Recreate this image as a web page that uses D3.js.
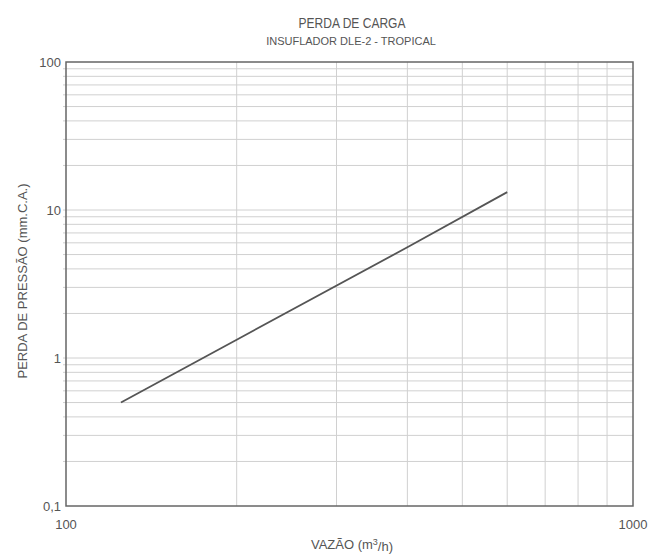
<!DOCTYPE html>
<html>
<head>
<meta charset="utf-8">
<script src="https://cdn.jsdelivr.net/npm/d3@7"></script>
<style>
  body { margin: 0; background: #fff; }
  text { font-family: "Liberation Sans Narrow", "Arial Narrow", "Liberation Sans", sans-serif; fill: #555; }
</style>
</head>
<body>
<div id="chart-area"></div>
<script>
// Data
const flow = [125, 200, 400, 600]          // VAZÃO (m3/h)
const loss = [0.5, 1.33, 5.6, 13.2]        // PERDA DE PRESSÃO (mm.C.A.)
const xTicks = [100, 1000]
const yTicks = [0.1, 1, 10, 100]
const yTickLabels = ["0,1", "1", "10", "100"]

const MARGIN = { LEFT: 66, RIGHT: 32, TOP: 62, BOTTOM: 51 }
const WIDTH = 665 - MARGIN.LEFT - MARGIN.RIGHT
const HEIGHT = 557 - MARGIN.TOP - MARGIN.BOTTOM

const root = d3.select("#chart-area").append("svg")
  .attr("width", 665)
  .attr("height", 557)

const svg = root.append("g")
  .attr("transform", `translate(${MARGIN.LEFT},${MARGIN.TOP})`)

const x = d3.scaleLog().domain([100, 1000]).range([0, WIDTH])
const y = d3.scaleLog().domain([0.1, 100]).range([HEIGHT, 0])

// Grid
const xGrid = d3.range(2, 10).map(d => d * 100)
const yGrid = []
;[0.1, 1, 10].forEach(dec => d3.range(2, 10).forEach(m => yGrid.push(dec * m)))
;[1, 10].forEach(v => yGrid.push(v))

svg.selectAll(".vgrid")
  .data(xGrid)
  .join("line")
  .attr("class", "vgrid")
  .attr("x1", d => x(d)).attr("x2", d => x(d))
  .attr("y1", 0).attr("y2", HEIGHT)
  .attr("stroke", "#d0d0d0")
  .attr("stroke-width", 1)

svg.selectAll(".hgrid")
  .data(yGrid)
  .join("line")
  .attr("class", "hgrid")
  .attr("x1", -3).attr("x2", WIDTH)
  .attr("y1", d => y(d)).attr("y2", d => y(d))
  .attr("stroke", "#d0d0d0")
  .attr("stroke-width", 1)

// Frame
svg.append("rect")
  .attr("width", WIDTH).attr("height", HEIGHT)
  .attr("fill", "none")
  .attr("stroke", "#666")
  .attr("stroke-width", 1.5)

// Tick labels
svg.selectAll(".ylab")
  .data(yTicks)
  .join("text")
  .attr("class", "ylab")
  .attr("x", -5)
  .attr("y", d => y(d))
  .attr("dy", "0.35em")
  .attr("text-anchor", "end")
  .style("font-size", "13px")
  .text((d, i) => yTickLabels[i])

svg.selectAll(".xlab")
  .data(xTicks)
  .join("text")
  .attr("class", "xlab")
  .attr("x", d => x(d))
  .attr("y", HEIGHT + 23)
  .attr("text-anchor", "middle")
  .style("font-size", "13px")
  .text(d => d)

// Curve
const line = d3.line()
  .x(d => x(d[0]))
  .y(d => y(d[1]))

svg.append("path")
  .datum(flow.map((f, i) => [f, loss[i]]))
  .attr("d", line)
  .attr("fill", "none")
  .attr("stroke", "#555")
  .attr("stroke-width", 1.8)

// Titles
root.append("text")
  .attr("transform", "translate(352,28) scale(0.86,1)")
  .attr("text-anchor", "middle")
  .style("font-size", "14px")
  .text("PERDA DE CARGA")

root.append("text")
  .attr("x", 351).attr("y", 45)
  .attr("text-anchor", "middle")
  .style("font-size", "11px")
  .text("INSUFLADOR DLE-2 - TROPICAL")

const xt = root.append("text")
  .attr("x", 352).attr("y", 549)
  .attr("text-anchor", "middle")
  .style("font-size", "13px")
xt.append("tspan").text("VAZÃO (m")
xt.append("tspan").attr("dy", "-0.4em").style("font-size", "9px").text("3")
xt.append("tspan").attr("dy", "0.4em").text("/h)")

root.append("text")
  .attr("transform", `translate(27,${MARGIN.TOP + HEIGHT / 2 - 3}) rotate(-90)`)
  .attr("text-anchor", "middle")
  .style("font-size", "13px")
  .text("PERDA DE PRESSÃO (mm.C.A.)")
</script>
</body>
</html>
